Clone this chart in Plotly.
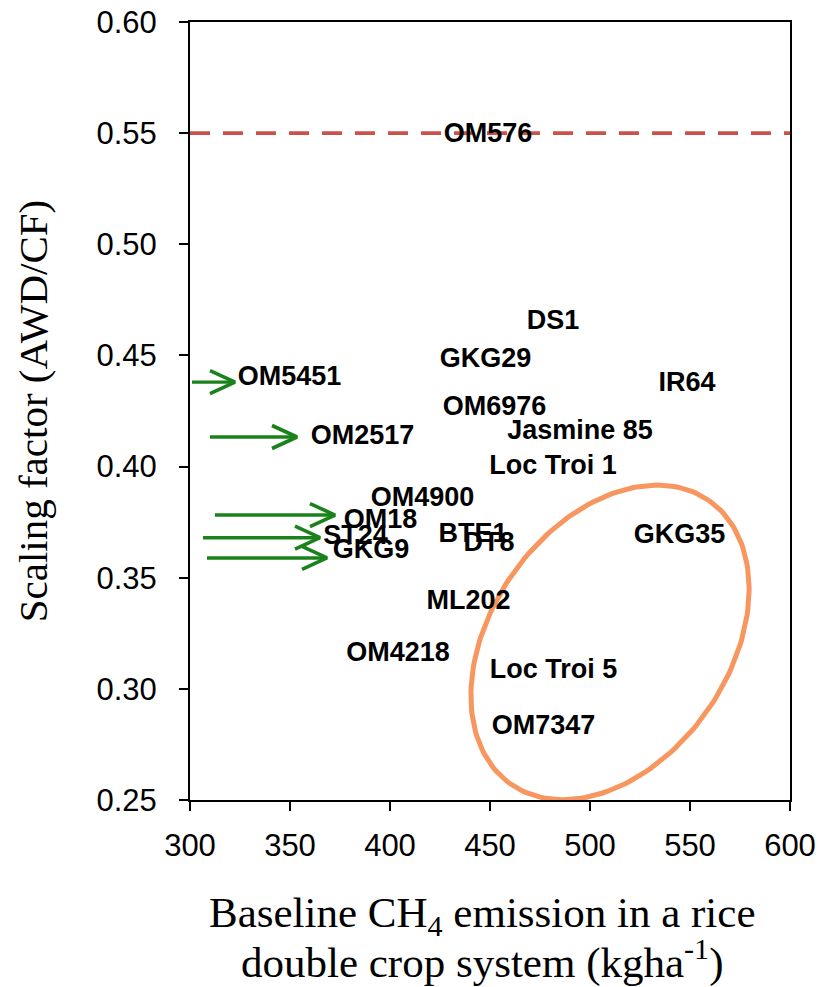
import numpy as np
import plotly.graph_objects as go

# Rice varieties: baseline CH4 emission (kg/ha) vs AWD/CF scaling factor
varieties = ["OM576", "DS1", "GKG29", "IR64", "OM5451", "OM6976", "Jasmine 85",
             "OM2517", "Loc Troi 1", "OM4900", "OM18", "GKG35", "BTE1", "DT8",
             "ST24", "GKG9", "ML202", "OM4218", "Loc Troi 5", "OM7347"]
emission = [449, 481.5, 447.75, 548.5, 349.75, 452.25, 495, 386.25, 481.5, 416.25,
            395.25, 544.75, 441.5, 449.5, 382.75, 390.5, 439.25, 404, 481.75, 476.75]
scaling = [0.549, 0.465, 0.448, 0.437, 0.4398, 0.4264, 0.4156, 0.4133, 0.3998, 0.3854,
           0.3755, 0.3688, 0.3692, 0.3652, 0.3683, 0.362, 0.339, 0.3157, 0.308, 0.2826]

# Arrows for varieties whose emission lies beyond the left edge
arrow_start_x = [301, 310, 312.5, 306.5, 308.5]
arrow_end_x = [322.5, 353.5, 372.5, 365, 368.5]
arrow_y = [0.438, 0.4133, 0.3782, 0.368, 0.3589]

threshold = 0.55

x_range = [300, 600]
y_range = [0.25, 0.60]
x_ticks = [300, 350, 400, 450, 500, 550, 600]
y_ticks = [0.25, 0.30, 0.35, 0.40, 0.45, 0.50, 0.55, 0.60]

x_title_lines = ["Baseline CH<sub>4</sub> emission in a rice",
                 "double crop system (kgha<sup>-1</sup>)"]
y_title = "Scaling factor (AWD/CF)"

# Figure geometry
W, H = 820, 987
ML, MR, MT, MB = 190, 30, 22, 187
plot_w = W - ML - MR
plot_h = H - MT - MB
ux = (x_range[1] - x_range[0]) / plot_w   # data units per px
uy = (y_range[1] - y_range[0]) / plot_h

GREEN = "#1b821b"
SERIF = "Liberation Serif, Times New Roman, serif"
SANS = "Liberation Sans, Arial, sans-serif"

fig = go.Figure()

# Threshold line
fig.add_trace(go.Scatter(x=x_range, y=[threshold, threshold], mode="lines",
                         line=dict(color="#c9534c", width=3.8, dash="20px,13px"),
                         hoverinfo="skip", showlegend=False))

# Highlight ellipse (sizes in px, rotated)
ell_cx, ell_cy = 510, 0.3209
ell_a, ell_b, ell_rot = 173, 119, np.deg2rad(55)
t = np.linspace(0, 2 * np.pi, 200)
ex = ell_a * np.cos(t) * np.cos(ell_rot) - ell_b * np.sin(t) * np.sin(ell_rot)
ey = ell_a * np.cos(t) * np.sin(ell_rot) + ell_b * np.sin(t) * np.cos(ell_rot)
fig.add_trace(go.Scatter(x=ell_cx + ex * ux, y=ell_cy + ey * uy, mode="lines",
                         line=dict(color="#f7965f", width=5),
                         hoverinfo="skip", showlegend=False))

# Green arrows with open chevron heads
head_back, head_spread = 25, 11.5
for x0, x1, y in zip(arrow_start_x, arrow_end_x, arrow_y):
    fig.add_trace(go.Scatter(x=[x0, x1], y=[y, y], mode="lines",
                             line=dict(color=GREEN, width=3.4),
                             hoverinfo="skip", showlegend=False))
    fig.add_trace(go.Scatter(
        x=[x1 - head_back * ux, x1, x1 - head_back * ux],
        y=[y + head_spread * uy, y, y - head_spread * uy],
        mode="lines", line=dict(color=GREEN, width=3.6),
        hoverinfo="skip", showlegend=False))

# Variety labels
fig.add_trace(go.Scatter(x=emission, y=scaling, mode="text", text=varieties,
                         textposition="middle center",
                         textfont=dict(family=SANS, size=27, color="black", weight="bold"),
                         hoverinfo="skip", showlegend=False))

axis_common = dict(showline=True, linecolor="black", linewidth=2, mirror=True,
                   ticks="outside", ticklen=9, tickwidth=1.5, tickcolor="black",
                   showgrid=False, zeroline=False, automargin=False,
                   tickfont=dict(family=SANS, size=31, color="black"))

fig.update_xaxes(range=x_range, tickvals=x_ticks, ticktext=[str(v) for v in x_ticks],
                 ticklabelstandoff=8, **axis_common)
fig.update_yaxes(range=y_range, tickvals=y_ticks, ticktext=[f"{v:.2f}" for v in y_ticks],
                 ticklabelstandoff=16,
                 title=dict(text=y_title, font=dict(family=SERIF, size=41, color="black"),
                            standoff=36),
                 **axis_common)

# Two-line x-axis title
for line, ypx in zip(x_title_lines, [916, 959]):
    fig.add_annotation(text=line, xref="paper", yref="paper",
                       x=0.487, y=-(ypx - (MT + plot_h)) / plot_h,
                       xanchor="center", yanchor="middle", showarrow=False,
                       font=dict(family=SERIF, size=43, color="black"))

fig.update_layout(width=W, height=H, margin=dict(l=ML, r=MR, t=MT, b=MB),
                  plot_bgcolor="white", paper_bgcolor="white")

fig.write_html("out.html")
